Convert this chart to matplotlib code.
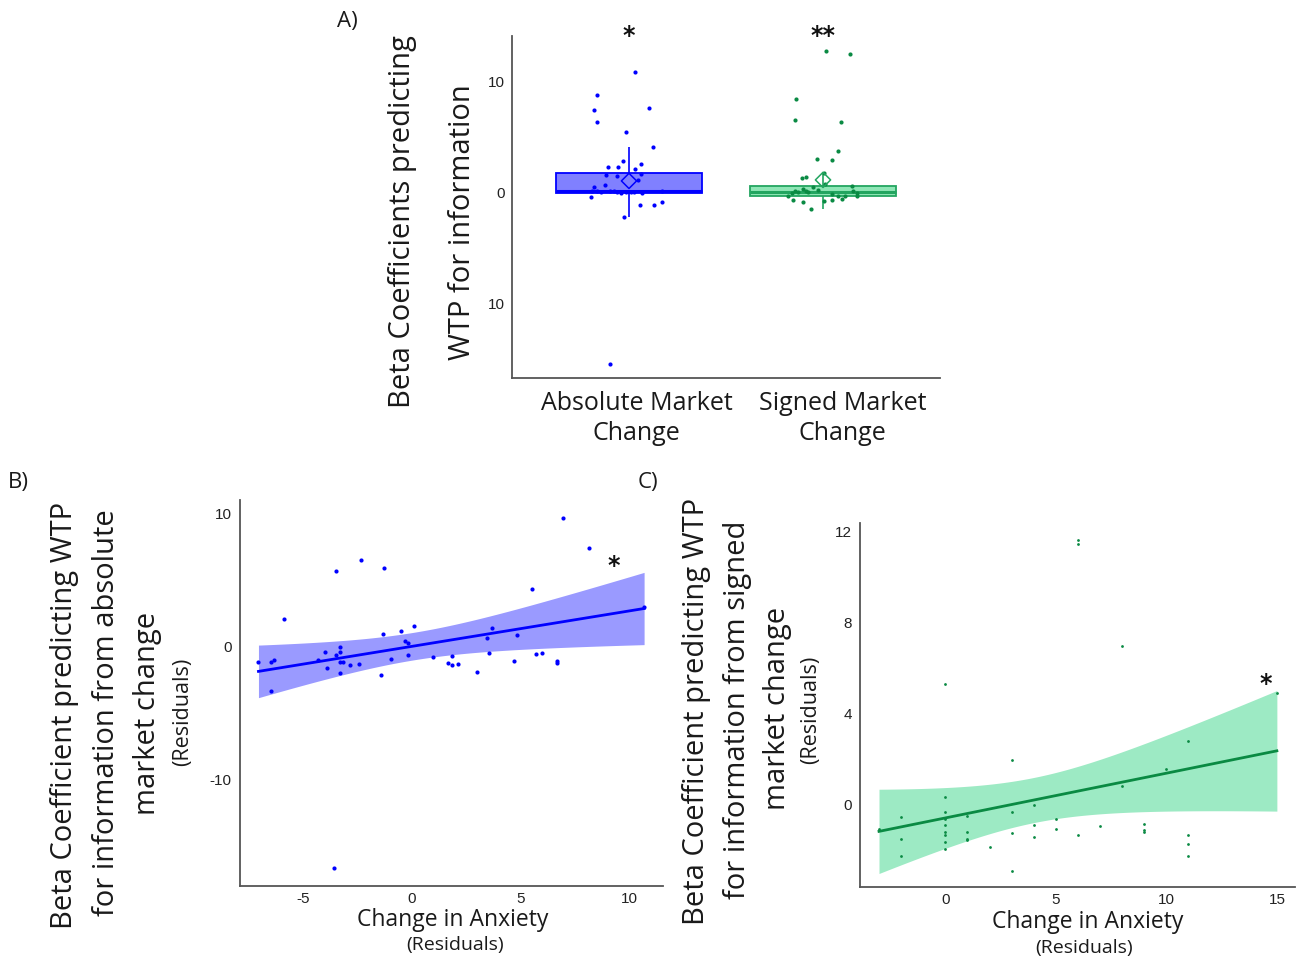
import numpy as np
import matplotlib
matplotlib.use("Agg")
import matplotlib.pyplot as plt

plt.rcParams["axes.unicode_minus"] = False

# ---- panel A: beta coefficients (box + jittered points)
abs_vals = [10.84, 8.77, 7.42, 6.37, 7.66, 5.44, 4.14, 2.88, 2.55, 2.34, 2.34, 2.13,
            1.62, 1.50, 1.65, 1.14, 0.69, 0.54, 0.15, 0.10, 0.05, 0.12, 0.15, 0.08,
            0.0, 0.05, 0.02, 0.05, 0.0, 0.1, -0.36, -1.14, -1.11, -0.87, -2.19, -15.4]
abs_jitter = [0.029, -0.167, -0.179, -0.167, 0.105, -0.015, 0.125, -0.033, 0.064, -0.108,
              -0.058, 0.033, -0.117, -0.062, 0.064, 0.046, -0.124, -0.180, -0.19, -0.165,
              -0.146, -0.10, -0.077, -0.06, -0.043, -0.017, 0.009, 0.026, 0.069, 0.17,
              -0.194, 0.055, 0.127, 0.17, -0.027, -0.1]
signed_vals = [12.76, 12.52, 8.41, 6.55, 6.34, 3.78, 3.06, 2.94, 1.74, 1.32, 1.38, 0.75,
               0.6, 0.5, 0.22, -0.27, -0.03, 0.12, 0.03, 0.33, 0.12, 0.03, -0.09, -0.33,
               -0.57, -0.33, 0.12, -0.03, -0.33, -0.63, -0.87, -1.44, -0.78, -0.69]
signed_jitter = [0.014, 0.137, -0.137, -0.144, 0.093, 0.077, -0.029, 0.045, 0.005, -0.108,
                 -0.089, 0.010, 0.148, -0.050, -0.024, -0.179, -0.162, -0.144, -0.127, -0.105,
                 -0.088, -0.076, 0.045, 0.079, 0.096, 0.113, 0.156, 0.177, 0.174, -0.156,
                 -0.105, -0.062, 0.005, 0.045]
box_names = ["Absolute Market\nChange", "Signed Market\nChange"]
box_q1 = [0.0, -0.27]
box_med = [0.1, 0.03]
box_q3 = [1.8, 0.6]
box_lo = [-2.19, -1.47]
box_hi = [4.14, 1.74]
box_mean = [1.05, 1.14]
box_stars = ["*", "**"]

# ---- panel B / C: change in anxiety vs beta (residuals)
b_x = [6.98, 8.16, -2.35, -1.27, -3.48, 5.54, -5.89, 10.69, 0.12, -0.49, -1.33, 3.68,
       4.85, 3.47, -0.32, -0.17, -3.31, -3.31, -3.99, -3.48, -0.17, 3.54, 5.71, 6.0,
       0.98, -0.98, -4.34, -7.06, -6.5, -6.35, -3.31, -3.16, -2.84, -2.44, -3.9, 4.68,
       1.67, 1.87, 1.87, 2.12, 6.69, 6.69, 2.98, -1.4, -3.31, -6.5, -3.6]
b_y = [9.61, 7.39, 6.49, 5.92, 5.67, 4.29, 2.07, 2.97, 1.52, 1.17, 0.97, 1.35,
       0.85, 0.62, 0.42, 0.27, -0.05, -0.45, -0.4, -0.62, -0.62, -0.47, -0.57, -0.47,
       -0.8, -0.95, -1.05, -1.2, -1.15, -1.05, -1.15, -1.2, -1.37, -1.3, -1.6, -1.1,
       -1.22, -0.7, -1.37, -1.3, -1.1, -1.22, -1.9, -2.17, -2.02, -3.35, -16.65]
c_x = [6, 6, 8, 0, 15, 11, 3, 10, 8, 0, 4, 0, 3, 1, -2, 0, 5, -3, 0, 4, 7, 9, 9, 9,
       5, 0, 0, 1, 3, 6, 11, 4, -2, 1, 1, 0, 11, 2, 0, -2, 11, 3]
c_y = [11.63, 11.44, 6.96, 5.31, 4.88, 2.79, 1.96, 1.55, 0.81, 0.31, -0.03, -0.32,
       -0.32, -0.51, -0.56, -0.62, -0.65, -1.06, -0.91, -0.89, -0.94, -0.87, -1.13, -1.2,
       -1.09, -1.22, -1.32, -1.2, -1.23, -1.35, -1.32, -1.44, -1.5, -1.5, -1.54, -1.66,
       -1.72, -1.86, -1.94, -2.27, -2.27, -2.92]

BLUE = "#0000ff"
BLUE_FILL = "#8080ff"
BLUE_BAND = "#9a9aff"
GREEN = "#0a8a43"
GREEN_EDGE = "#23a560"
GREEN_FILL = "#8fe6b6"
GREEN_BAND = "#9deac4"
TXT = "#1a1a1a"
LBL_FONT = ["Open Sans", "DejaVu Sans"]
TICK_FONT = ["Liberation Sans", "DejaVu Sans"]

fig = plt.figure(figsize=(12.99, 9.59), dpi=100)
W, H = 1299.0, 959.0


def add_axes_px(left, top, right, bottom):
    return fig.add_axes([left / W, 1 - bottom / H, (right - left) / W, (bottom - top) / H])


def style(ax):
    for s in ["top", "right"]:
        ax.spines[s].set_visible(False)
    for s in ["left", "bottom"]:
        ax.spines[s].set_color("#555555")
        ax.spines[s].set_linewidth(1.3)
    ax.tick_params(length=0, labelsize=11, colors="#222222", pad=6)
    for lab in ax.get_xticklabels() + ax.get_yticklabels():
        lab.set_family(TICK_FONT)


def ftext(x, y, s, **kw):
    kw.setdefault("family", LBL_FONT)
    kw.setdefault("color", TXT)
    fig.text(x / W, 1 - y / H, s, **kw)


# ---------------- panel A
axA = add_axes_px(512, 36, 940, 378)
fills = [BLUE_FILL, GREEN_FILL]
edges = [BLUE, GREEN_EDGE]
for i in range(2):
    pos = i + 1
    axA.vlines(pos, box_lo[i], box_hi[i], color=edges[i], lw=1.2, zorder=1)
    stats = [dict(q1=box_q1[i], med=box_med[i], q3=box_q3[i], whislo=box_q1[i],
                  whishi=box_q3[i], fliers=[])]
    axA.bxp(stats, positions=[pos], widths=0.75, patch_artist=True, showcaps=False,
            manage_ticks=False,
            boxprops=dict(facecolor=fills[i], edgecolor=edges[i], lw=1.3, alpha=1),
            medianprops=dict(color=edges[i], lw=2.2),
            whiskerprops=dict(lw=0))
    axA.scatter(pos, box_mean[i], marker="D", s=60, facecolor="none",
                edgecolor=edges[i], lw=1.1, zorder=4)
    axA.text(pos, 14.1, box_stars[i], ha="center", va="center", fontsize=17,
             fontweight="bold", color="#111111")

axA.scatter(1 + np.array(abs_jitter), abs_vals, s=9, color=BLUE, zorder=3, lw=0)
axA.scatter(2 + np.array(signed_jitter), signed_vals, s=9, color=GREEN, zorder=3, lw=0)
axA.set_xlim(0.397, 2.603)
axA.set_ylim(-16.7, 14.1)
axA.set_yticks([10, 0, -10])
axA.set_yticklabels(["10", "0", "10"])
axA.set_xticks([1.04, 2.1])
axA.set_xticklabels(box_names)
style(axA)
axA.tick_params(axis="y", pad=5)
axA.tick_params(axis="x", pad=9)
for lab in axA.get_xticklabels():
    lab.set_family(LBL_FONT)
    lab.set_fontsize(18)
    lab.set_color(TXT)
    lab.set_linespacing(1.3)

ftext(347, 22, "A)", fontsize=16, ha="center", va="center")
ftext(403, 222, "Beta Coefficients predicting", fontsize=21, rotation=90, ha="center", va="center")
ftext(463, 222, "WTP for information", fontsize=21, rotation=90, ha="center", va="center")


# ---------------- regression panels
def reg_panel(ax, x, y, col, band, ms):
    x = np.asarray(x, float)
    y = np.asarray(y, float)
    n = len(x)
    slope, icpt = np.polyfit(x, y, 1)
    resid = y - (slope * x + icpt)
    s = np.sqrt(np.sum(resid ** 2) / (n - 2))
    xs = np.linspace(x.min(), x.max(), 100)
    fit = slope * xs + icpt
    se = s * np.sqrt(1.0 / n + (xs - x.mean()) ** 2 / np.sum((x - x.mean()) ** 2))
    ax.fill_between(xs, fit - 2.01 * se, fit + 2.01 * se, color=band, lw=0, zorder=1)
    ax.plot(xs, fit, color=col, lw=2, zorder=3)
    ax.scatter(x, y, s=ms, color=col, lw=0, zorder=4)


axB = add_axes_px(240, 500, 663, 886)
reg_panel(axB, b_x, b_y, BLUE, BLUE_BAND, 9)
axB.set_xlim(-7.91, 11.56)
axB.set_ylim(-17.98, 10.99)
axB.set_xticks([-5, 0, 5, 10])
axB.set_yticks([10, 0, -10])
style(axB)
axB.tick_params(axis="x", pad=4)
axB.text(9.3, 6.0, "*", fontsize=17, fontweight="bold", ha="center", va="center", color="#111111")

axC = add_axes_px(860, 523, 1295, 887)
reg_panel(axC, c_x, c_y, GREEN, GREEN_BAND, 4)
axC.set_xlim(-3.86, 15.82)
axC.set_ylim(-3.62, 12.36)
axC.set_xticks([0, 5, 10, 15])
axC.set_yticks([0, 4, 8, 12])
style(axC)
axC.tick_params(axis="x", pad=4)
axC.text(14.5, 5.3, "*", fontsize=17, fontweight="bold", ha="center", va="center", color="#111111")

# panel B labels
ftext(18, 482, "B)", fontsize=16, ha="center", va="center")
ftext(65, 715, "Beta Coefficient predicting WTP", fontsize=21, rotation=90, ha="center", va="center")
ftext(106, 713, "for information from absolute", fontsize=21, rotation=90, ha="center", va="center")
ftext(147, 713, "market change", fontsize=21, rotation=90, ha="center", va="center")
ftext(183, 712, "(Residuals)", fontsize=15.5, rotation=90, ha="center", va="center")
ftext(453, 920, "Change in Anxiety", fontsize=16.5, ha="center", va="center")
ftext(455, 945, "(Residuals)", fontsize=14, ha="center", va="center")

# panel C labels
ftext(648, 482, "C)", fontsize=16, ha="center", va="center")
ftext(697, 711, "Beta Coefficient predicting WTP", fontsize=21, rotation=90, ha="center", va="center")
ftext(737, 710, "for information from signed", fontsize=21, rotation=90, ha="center", va="center")
ftext(777, 708, "market change", fontsize=21, rotation=90, ha="center", va="center")
ftext(811, 710, "(Residuals)", fontsize=15.5, rotation=90, ha="center", va="center")
ftext(1088, 922, "Change in Anxiety", fontsize=16.5, ha="center", va="center")
ftext(1084, 948, "(Residuals)", fontsize=14, ha="center", va="center")

fig.savefig("out.png", dpi=100)
